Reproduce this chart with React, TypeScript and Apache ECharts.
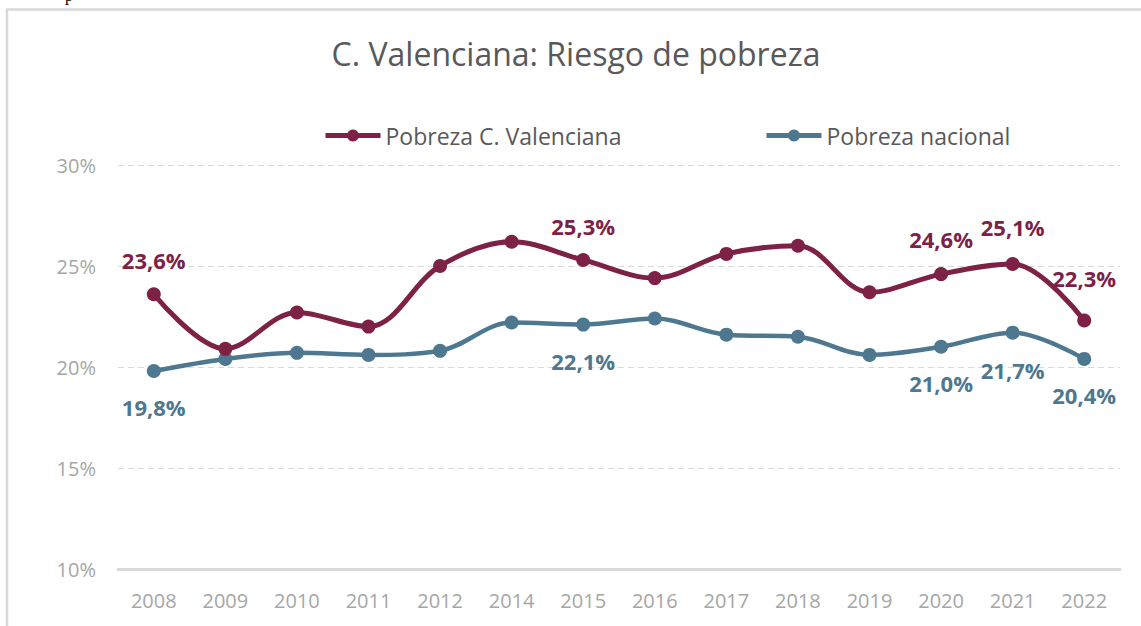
import React, { useEffect, useRef } from "react";
import * as echarts from "echarts";

const years = ["2008", "2009", "2010", "2011", "2012", "2014", "2015", "2016", "2017", "2018", "2019", "2020", "2021", "2022"];
const valenciana = [23.6, 20.9, 22.7, 22.0, 25.0, 26.2, 25.3, 24.4, 25.6, 26.0, 23.7, 24.6, 25.1, 22.3];
const nacional = [19.8, 20.4, 20.7, 20.6, 20.8, 22.2, 22.1, 22.4, 21.6, 21.5, 20.6, 21.0, 21.7, 20.4];
const yMin = 10;
const yMax = 30;
const yStep = 5;
const labelledYears = ["2008", "2015", "2020", "2021", "2022"];
const titleText = "C. Valenciana: Riesgo de pobreza";
const nameVal = "Pobreza C. Valenciana";
const nameNac = "Pobreza nacional";

const RED = "#7d2246";
const BLUE = "#4e7790";
const FONT = "'Open Sans', 'Noto Sans', sans-serif";

// label distance (px) per labelled year, styling only
const redDist: Record<string, number> = { "2008": 16, "2015": 16, "2020": 17, "2021": 19, "2022": 25 };
const blueDist: Record<string, number> = { "2008": 18, "2015": 18, "2020": 18, "2021": 19, "2022": 18 };

const fmt = (v: number) => v.toFixed(1).replace(".", ",") + "%";

function buildData(values: number[], color: string, pos: "top" | "bottom", dist: Record<string, number>) {
  return values.map((v, i) => {
    const y = years[i];
    if (labelledYears.indexOf(y) >= 0) {
      return {
        value: v,
        label: {
          show: true,
          position: pos,
          distance: dist[y],
          formatter: () => fmt(v),
          color,
          fontFamily: FONT,
          fontWeight: "bold",
          fontSize: 22,
        },
      };
    }
    return { value: v };
  });
}

export default function App() {
  const ref = useRef<HTMLDivElement>(null);
  useEffect(() => {
    if (!ref.current) return;
    const chart = echarts.init(ref.current, null, { renderer: "svg" });
    const legendText = { color: "#595959", fontSize: 23, fontFamily: FONT };
    const legendCommon = {
      top: 124,
      itemWidth: 55,
      itemHeight: 15,
      itemGap: 0,
      textStyle: legendText,
      padding: 0,
      lineStyle: { width: 5 },
    };
    chart.setOption({
      animation: false,
      backgroundColor: "#ffffff",
      graphic: [
        {
          type: "rect",
          shape: { x: 7, y: 9.5, width: 1300, height: 800 },
          style: { fill: "none", stroke: "#d9d9d9", lineWidth: 2.5 },
          silent: true,
        },
        {
          type: "text",
          x: 65,
          y: -5,
          style: { text: "p", font: "16px serif", fill: "#000", verticalAlign: "middle" },
          silent: true,
        },
        {
          type: "text",
          x: 576,
          y: 53,
          style: {
            text: titleText,
            fill: "#595959",
            fontSize: 32,
            fontFamily: FONT,
            align: "center",
            verticalAlign: "middle",
          },
        },
      ],
      legend: [
        { ...legendCommon, data: [nameVal], left: 323 },
        { ...legendCommon, data: [nameNac], left: 764 },
      ],
      grid: { left: 118, right: 21, top: 165, bottom: 57 },
      xAxis: {
        type: "category",
        data: years,
        boundaryGap: true,
        axisLine: { show: true, lineStyle: { color: "#d9d9d9", width: 3 } },
        axisTick: { show: false },
        axisLabel: { color: "#a6a6a6", fontSize: 20, fontFamily: FONT, margin: 21 },
      },
      yAxis: {
        type: "value",
        min: yMin,
        max: yMax,
        interval: yStep,
        axisLine: { show: false },
        axisTick: { show: false },
        axisLabel: { color: "#a6a6a6", fontSize: 20, fontFamily: FONT, margin: 22, formatter: "{value}%" },
        splitLine: { lineStyle: { color: "#d9d9d9", type: [6, 4], width: 1 } },
      },
      series: [
        {
          name: nameVal,
          type: "line",
          data: buildData(valenciana, RED, "top", redDist),
          smooth: 0.35,
          symbol: "circle",
          symbolSize: 14,
          color: RED,
          lineStyle: { color: RED, width: 5 },
          itemStyle: { color: RED },
          z: 3,
        },
        {
          name: nameNac,
          type: "line",
          data: buildData(nacional, BLUE, "bottom", blueDist),
          smooth: 0.35,
          symbol: "circle",
          symbolSize: 14,
          color: BLUE,
          lineStyle: { color: BLUE, width: 4.5 },
          itemStyle: { color: BLUE },
          z: 2,
        },
      ],
    });
    return () => chart.dispose();
  }, []);
  return <div ref={ref} style={{ position: "fixed", left: 0, top: 0, width: 1141, height: 626 }} />;
}
